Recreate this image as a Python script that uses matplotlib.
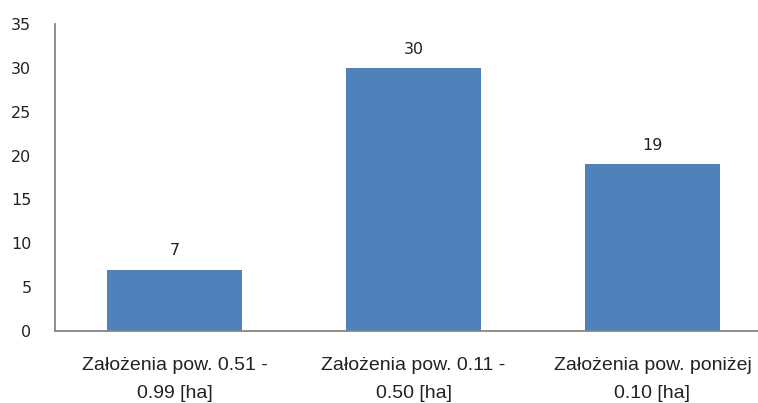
import matplotlib.pyplot as plt

# Data
categories = ['Założenia pow. 0.51 -\n0.99 [ha]',
              'Założenia pow. 0.11 -\n0.50 [ha]',
              'Założenia pow. poniżej\n0.10 [ha]']
values = [7, 30, 19]
y_ticks = [0, 5, 10, 15, 20, 25, 30, 35]

plt.rcParams['font.family'] = ['Liberation Sans', 'DejaVu Sans']

W, H = 758, 403
fig = plt.figure(figsize=(W / 100, H / 100), dpi=100)
ax = fig.add_axes([55 / W, (H - 331) / H, 717 / W, 307 / H])

x = range(len(categories))
bars = ax.bar(x, values, width=0.565, color='#4F81BD')

for xi, v in zip(x, values):
    ax.annotate(str(v), (xi, v), xytext=(0, 8), textcoords='offset points',
                ha='center', va='bottom', fontsize=11.5, color='#222222',
                family='DejaVu Sans')

ax.set_xlim(-0.5, 2.5)
ax.set_ylim(0, 35)
ax.set_yticks(y_ticks)
ax.set_xticks(list(x))
ax.set_xticklabels(categories, fontsize=14, color='#222222', linespacing=1.8)
for lbl in ax.get_yticklabels():
    lbl.set_family('DejaVu Sans')
ax.tick_params(axis='y', labelsize=11.5, labelcolor='#222222', length=0, pad=17)
ax.tick_params(axis='x', length=0, pad=19)

for s in ['top', 'right']:
    ax.spines[s].set_visible(False)
for s in ['left', 'bottom']:
    ax.spines[s].set_color('#868686')
    ax.spines[s].set_linewidth(1.3)

fig.savefig('out.png', dpi=100)
